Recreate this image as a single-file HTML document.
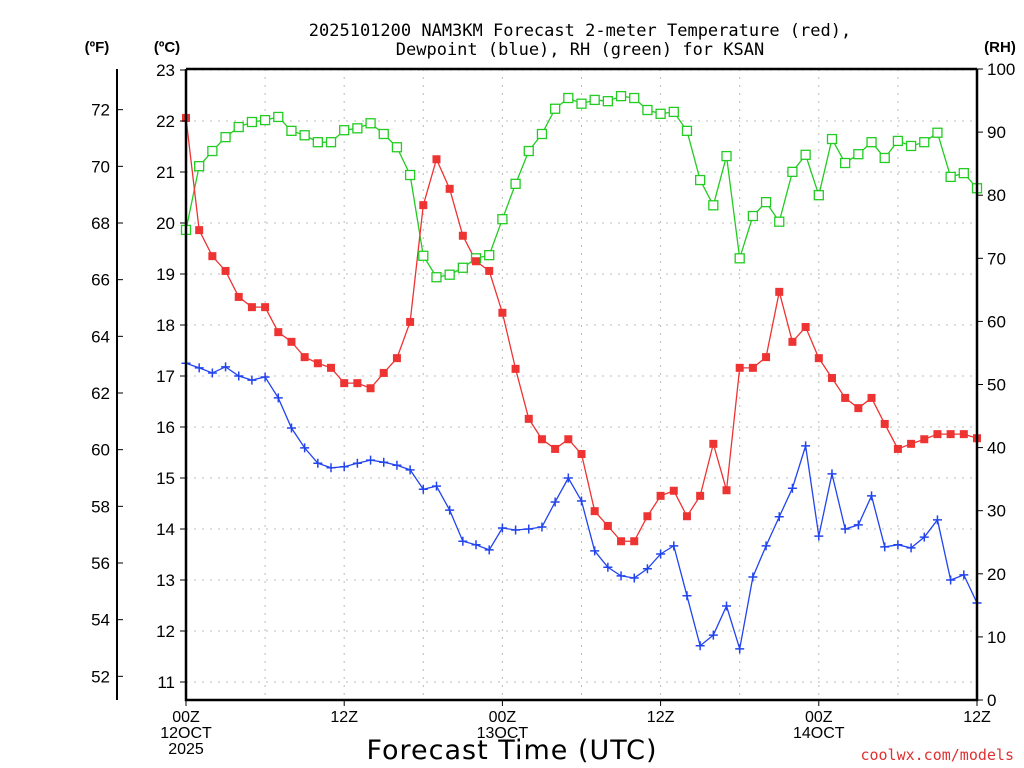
<!DOCTYPE html>
<html><head><meta charset="utf-8"><style>
html,body{margin:0;padding:0;background:#fff}
svg{display:block;font-family:"Liberation Sans","DejaVu Sans",sans-serif}
</style></head><body>
<svg id="chart" width="1024" height="768" viewBox="0 0 1024 768">
<rect width="1024" height="768" fill="#fff"/>
<g id="grid"></g>
<g id="series"></g>
<g id="axes"></g>
<text x="580" y="36" text-anchor="middle" font-size="17" font-family="DejaVu Sans Mono, Liberation Mono, monospace">2025101200 NAM3KM Forecast 2-meter Temperature (red),</text>
<text x="580" y="55" text-anchor="middle" font-size="17" font-family="DejaVu Sans Mono, Liberation Mono, monospace">Dewpoint (blue), RH (green) for KSAN</text>
<text x="97" y="52" text-anchor="middle" font-size="15" font-weight="bold">(ºF)</text>
<text x="167" y="52" text-anchor="middle" font-size="15" font-weight="bold">(ºC)</text>
<text x="1000" y="52" text-anchor="middle" font-size="15" font-weight="bold">(RH)</text>
<text x="512" y="759" text-anchor="middle" font-size="27" letter-spacing="1" font-family="DejaVu Sans, sans-serif">Forecast Time (UTC)</text>
<text x="1014" y="760" text-anchor="end" font-size="15" fill="#e03030" font-family="DejaVu Sans Mono, Liberation Mono, monospace">coolwx.com/models</text>
</svg>
<script>
const hours = Array.from({length:61},(_,i)=>i);
const tempC = [22.06,19.86,19.35,19.06,18.55,18.35,18.35,17.86,17.67,17.37,17.25,17.16,16.86,16.86,16.76,17.06,17.35,18.06,20.35,21.25,20.67,19.75,19.25,19.06,18.24,17.14,16.16,15.76,15.57,15.76,15.47,14.35,14.06,13.76,13.76,14.25,14.65,14.75,14.25,14.65,15.67,14.76,17.16,17.16,17.37,18.65,17.67,17.96,17.35,16.96,16.57,16.37,16.57,16.06,15.57,15.67,15.76,15.86,15.86,15.86,15.78];
const dewC = [17.25,17.16,17.06,17.18,17.0,16.92,16.98,16.57,15.98,15.59,15.29,15.2,15.22,15.29,15.35,15.31,15.25,15.16,14.78,14.84,14.37,13.76,13.69,13.59,14.02,13.98,14.0,14.04,14.53,15.0,14.55,13.57,13.25,13.08,13.04,13.22,13.51,13.67,12.69,11.71,11.92,12.49,11.65,13.06,13.67,14.24,14.8,15.63,13.86,15.08,14.0,14.08,14.65,13.65,13.69,13.63,13.84,14.18,13.0,13.1,12.55];
const rh = [74.5,84.6,87,89.2,90.8,91.6,91.9,92.4,90.2,89.5,88.4,88.4,90.3,90.6,91.4,89.7,87.6,83.2,70.4,67,67.4,68.5,70,70.5,76.2,81.8,87,89.7,93.7,95.4,94.5,95.1,94.9,95.7,95.4,93.5,92.9,93.2,90.2,82.4,78.4,86.2,70,76.7,78.9,75.8,83.7,86.4,80,88.9,85.1,86.5,88.4,85.9,88.6,87.8,88.4,89.9,82.9,83.5,81.1];
const cTicks = [11,12,13,14,15,16,17,18,19,20,21,22,23];
const fTicks = [52,54,56,58,60,62,64,66,68,70,72];
const rhTicks = [0,10,20,30,40,50,60,70,80,90,100];
const xTickHours = [0,12,24,36,48,60];
const xTickLabels = [["00Z","12OCT","2025"],["12Z"],["00Z","13OCT"],["12Z"],["00Z","14OCT"],["12Z"]];

const X0=186,X1=977,Y0=700,YT=69;
const xs=h=>X0+(X1-X0)*h/60;
const yc=c=>682-(c-11)*51;
const yf=f=>yc((f-32)*5/9);
const yr=r=>Y0-(Y0-YT)*r/100;
const NS="http://www.w3.org/2000/svg";
function mk(tag,attrs,parent){const e=document.createElementNS(NS,tag);for(const k in attrs)e.setAttribute(k,attrs[k]);parent.appendChild(e);return e;}
const grid=document.getElementById('grid'),ser=document.getElementById('series'),ax=document.getElementById('axes');

cTicks.forEach(c=>{const l=mk('line',{x1:X0,x2:X1,y1:yc(c),y2:yc(c),stroke:'#bbb','stroke-dasharray':'2,6'},grid);

});
for(let h=6;h<60;h+=6){const l=mk('line',{x1:xs(h),x2:xs(h),y1:YT,y2:Y0,stroke:'#bbb','stroke-dasharray':'2,6'},grid);

}

function poly(vals,yfn,color,name){const p=mk('polyline',{points:vals.map((v,i)=>xs(hours[i])+','+yfn(v)).join(' '),fill:'none',stroke:color,'stroke-width':1.3},ser);

}
poly(rh,yr,'#22cc22','rh-line');
poly(tempC,yc,'#ee3333','temperature-line');
poly(dewC,yc,'#2244ee','dewpoint-line');
rh.forEach((v,i)=>{const r=mk('rect',{x:xs(hours[i])-4.5,y:yr(v)-4.5,width:9,height:9,fill:'#fff',stroke:'#22cc22','stroke-width':1.3},ser);

});
tempC.forEach((v,i)=>{const r=mk('rect',{x:xs(hours[i])-4,y:yc(v)-4,width:8,height:8,fill:'#ee3333'},ser);

});
dewC.forEach((v,i)=>{const x=xs(hours[i]),y=yc(v);const p=mk('path',{d:`M${x-4.5},${y}H${x+4.5}M${x},${y-4.5}V${y+4.5}`,stroke:'#2244ee','stroke-width':1.5},ser);

});

const fr=mk('path',{d:`M${X0},${YT}H${X1}M${X0},${YT}V${Y0}H${X1}V${YT}`,fill:'none',stroke:'#000','stroke-width':2.5},ax);


const fl=mk('line',{x1:117,x2:117,y1:69,y2:700,stroke:'#000','stroke-width':2},ax);


cTicks.forEach(c=>{mk('line',{x1:X0-6,x2:X0,y1:yc(c),y2:yc(c),stroke:'#000'},ax);
const t=mk('text',{x:X0-11,y:yc(c)+6,'text-anchor':'end','font-size':17},ax);t.textContent=c;

});
fTicks.forEach(f=>{mk('line',{x1:117,x2:123,y1:yf(f),y2:yf(f),stroke:'#000'},ax);
const t=mk('text',{x:110,y:yf(f)+6,'text-anchor':'end','font-size':17},ax);t.textContent=f;

});
rhTicks.forEach(r=>{mk('line',{x1:X1,x2:X1+6,y1:yr(r),y2:yr(r),stroke:'#000'},ax);
const t=mk('text',{x:X1+10,y:yr(r)+6,'font-size':17},ax);t.textContent=r;

});
xTickHours.forEach((h,k)=>{mk('line',{x1:xs(h),x2:xs(h),y1:Y0,y2:Y0+6,stroke:'#000'},ax);
xTickLabels[k].forEach((s,j)=>{const t=mk('text',{x:xs(h),y:722+j*16,'text-anchor':'middle','font-size':16},ax);t.textContent=s;

});});
</script>
</body></html>
